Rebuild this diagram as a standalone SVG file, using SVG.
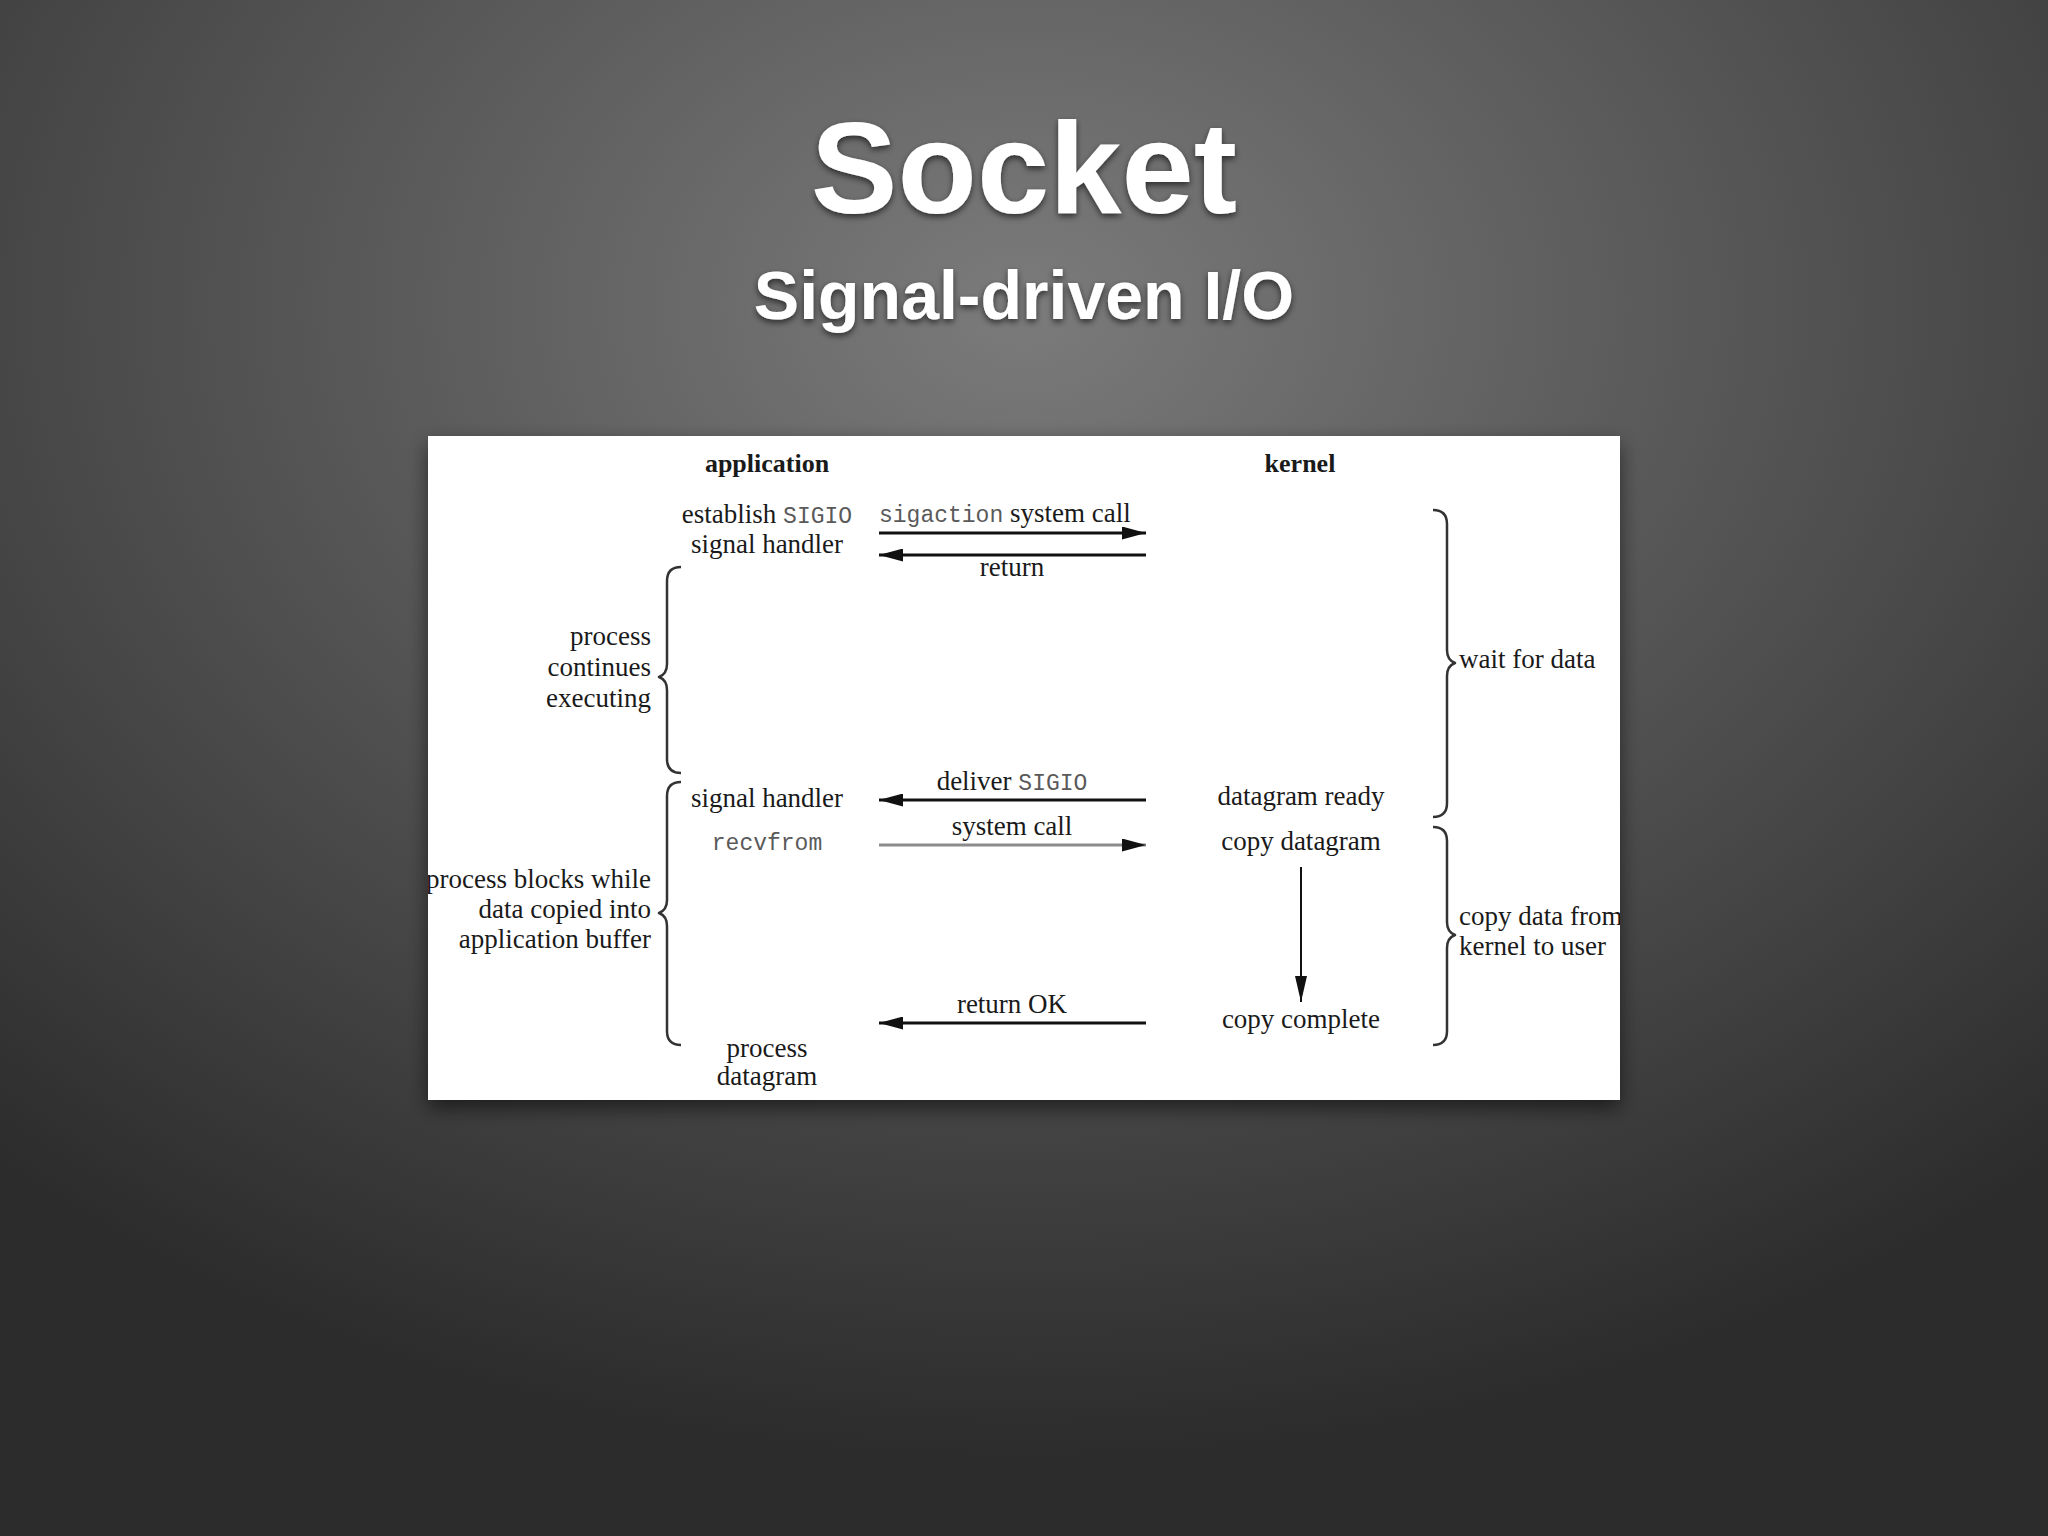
<svg xmlns="http://www.w3.org/2000/svg" width="2048" height="1536" viewBox="0 0 2048 1536">
  <defs>
    <radialGradient id="bg" cx="0.5" cy="0.2" r="0.75">
      <stop offset="0" stop-color="#7b7b7b"/>
      <stop offset="0.35" stop-color="#5f5f5f"/>
      <stop offset="0.7" stop-color="#444444"/>
      <stop offset="1" stop-color="#2c2c2c"/>
    </radialGradient>
    <filter id="tshadow" x="-10%" y="-20%" width="120%" height="150%">
      <feDropShadow dx="0" dy="3" stdDeviation="3" flood-color="#000" flood-opacity="0.6"/>
    </filter>
    <filter id="bshadow" x="-10%" y="-10%" width="120%" height="125%">
      <feDropShadow dx="0" dy="8" stdDeviation="10" flood-color="#000" flood-opacity="0.55"/>
    </filter>
    <clipPath id="boxclip">
      <rect x="428" y="436" width="1192" height="664"/>
    </clipPath>
    <marker id="ah" markerUnits="userSpaceOnUse" markerWidth="24" markerHeight="13" refX="24" refY="6.5" orient="auto">
      <path d="M0,0 L24,6.5 L0,13 z" fill="#111"/>
    </marker>
    <marker id="ahv" markerUnits="userSpaceOnUse" markerWidth="26" markerHeight="12" refX="26" refY="6" orient="auto">
      <path d="M0,0 L26,6 L0,12 z" fill="#111"/>
    </marker>
    <style>
      .title { font-family: "Liberation Sans", Arial, sans-serif; font-weight: bold; fill: #ffffff; text-anchor: middle; }
      .t { font-family: "Liberation Serif", "Times New Roman", serif; font-size: 27px; fill: #1a1a1a; }
      .b { font-weight: bold; font-size: 26px; }
      .m { font-family: "Liberation Mono", "Courier New", monospace; font-size: 23px; fill: #5a5a5a; }
      .c { text-anchor: middle; }
      .e { text-anchor: end; }
      .arrow { stroke: #111; stroke-width: 3; fill: none; marker-end: url(#ah); }
      .grey { stroke: #8c8c8c; }
      .varrow { stroke: #111; stroke-width: 2; fill: none; marker-end: url(#ahv); }
      .brace { stroke: #333; stroke-width: 2.5; fill: none; stroke-linejoin: round; }
    </style>
  </defs>

  <rect x="0" y="0" width="2048" height="1536" fill="url(#bg)"/>

  <g id="title" filter="url(#tshadow)">
    <text class="title" x="1024" y="213" font-size="130">Socket</text>
    <text class="title" x="1024" y="319" font-size="68">Signal-driven I/O</text>
  </g>

  <rect id="panel" x="428" y="436" width="1192" height="664" fill="#ffffff" filter="url(#bshadow)"/>

  <g id="diagram" clip-path="url(#boxclip)">
    <g id="node-application-header"><text class="t b c" x="767" y="472">application</text></g>
    <g id="node-kernel-header"><text class="t b c" x="1300" y="472">kernel</text></g>

    <g id="node-establish">
      <text class="t c" x="767" y="523">establish <tspan class="m">SIGIO</tspan></text>
      <text class="t c" x="767" y="553">signal handler</text>
    </g>
    <g id="label-sigaction"><text class="t" x="879" y="522"><tspan class="m">sigaction</tspan> system call</text></g>
    <g id="label-return"><text class="t c" x="1012" y="576">return</text></g>

    <g id="label-continues">
      <text class="t e" x="651" y="645">process</text>
      <text class="t e" x="651" y="676">continues</text>
      <text class="t e" x="651" y="707">executing</text>
    </g>
    <g id="label-wait"><text class="t" x="1459" y="668">wait for data</text></g>

    <g id="label-deliver"><text class="t c" x="1012" y="790">deliver <tspan class="m">SIGIO</tspan></text></g>
    <g id="node-signal-handler"><text class="t c" x="767" y="807">signal handler</text></g>
    <g id="node-datagram-ready"><text class="t c" x="1301" y="805">datagram ready</text></g>

    <g id="label-syscall"><text class="t c" x="1012" y="835">system call</text></g>
    <g id="node-recvfrom"><text class="m c" x="767" y="850">recvfrom</text></g>
    <g id="node-copy-datagram"><text class="t c" x="1301" y="850">copy datagram</text></g>

    <g id="label-blocks">
      <text class="t e" x="651" y="888">process blocks while</text>
      <text class="t e" x="651" y="918">data copied into</text>
      <text class="t e" x="651" y="948">application buffer</text>
    </g>
    <g id="label-copy-data">
      <text class="t" x="1459" y="925">copy data from</text>
      <text class="t" x="1459" y="955">kernel to user</text>
    </g>

    <g id="label-return-ok"><text class="t c" x="1012" y="1013">return OK</text></g>
    <g id="node-copy-complete"><text class="t c" x="1301" y="1028">copy complete</text></g>
    <g id="node-process-datagram">
      <text class="t c" x="767" y="1057">process</text>
      <text class="t c" x="767" y="1085">datagram</text>
    </g>

    <g id="connectors">
      <line class="arrow" x1="879" y1="533" x2="1146" y2="533"/>
      <line class="arrow" x1="1146" y1="555" x2="879" y2="555"/>
      <line class="arrow" x1="1146" y1="800" x2="879" y2="800"/>
      <line class="arrow grey" x1="879" y1="845" x2="1146" y2="845"/>
      <line class="arrow" x1="1146" y1="1023" x2="879" y2="1023"/>
      <line class="varrow" x1="1301" y1="867" x2="1301" y2="1002"/>
    </g>

    <g id="braces">
      <path class="brace" d="M681,567 Q667,567 667,581 L667,664 Q667,674 659,677 Q667,680 667,690 L667,759 Q667,773 681,773"/>
      <path class="brace" d="M681,782 Q667,782 667,796 L667,900 Q667,910 659,913 Q667,916 667,926 L667,1031 Q667,1045 681,1045"/>
      <path class="brace" d="M1433,510 Q1447,510 1447,524 L1447,650 Q1447,660 1455,663 Q1447,666 1447,676 L1447,803 Q1447,817 1433,817"/>
      <path class="brace" d="M1433,827 Q1447,827 1447,841 L1447,922 Q1447,932 1455,935 Q1447,938 1447,948 L1447,1031 Q1447,1045 1433,1045"/>
    </g>
  </g>
</svg>
